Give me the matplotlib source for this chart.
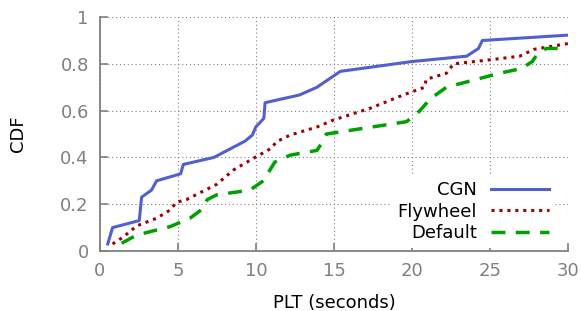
import matplotlib
matplotlib.use("Agg")
import matplotlib.pyplot as plt

# CDF of page load time
cgn_x = [0.5, 0.81, 2.52, 2.67, 3.3, 3.63, 5.17, 5.34, 7.3, 9.3, 9.77, 9.98, 10.5,
         10.58, 12.78, 13.9, 14.74, 15.4, 19.98, 23.5, 24.25, 24.5, 30.0]
cgn_y = [0.03, 0.10, 0.13, 0.23, 0.26, 0.30, 0.33, 0.37, 0.40, 0.47, 0.496, 0.53, 0.567,
         0.634, 0.667, 0.70, 0.738, 0.768, 0.81, 0.833, 0.866, 0.90, 0.923]

fly_x = [0.81, 1.5, 2.35, 3.63, 4.49, 4.9, 5.55, 7.48, 8.55, 9.83, 11.0, 11.3, 12.2,
         13.9, 14.96, 17.3, 19.55, 20.8, 20.9, 22.2, 22.65, 24.8, 26.9, 27.8, 30.0]
fly_y = [0.03, 0.06, 0.107, 0.14, 0.175, 0.208, 0.22, 0.285, 0.346, 0.396, 0.44, 0.467, 0.496,
         0.53, 0.56, 0.61, 0.67, 0.70, 0.734, 0.76, 0.80, 0.816, 0.833, 0.862, 0.887]

def_x = [1.39, 2.35, 4.49, 5.77, 6.62, 6.88, 7.48, 9.6, 10.47, 11.2, 12.2, 13.9, 14.1,
         14.5, 19.65, 20.5, 21.15, 22.2, 23.9, 25.6, 27.0, 27.7, 28.0, 28.6, 29.5]
def_y = [0.033, 0.068, 0.104, 0.14, 0.182, 0.22, 0.24, 0.26, 0.30, 0.38, 0.41, 0.43, 0.45,
         0.50, 0.553, 0.60, 0.65, 0.70, 0.73, 0.76, 0.78, 0.81, 0.84, 0.866, 0.866]

xticks = [0, 5, 10, 15, 20, 25, 30]
yticks = [0, 0.2, 0.4, 0.6, 0.8, 1]

gray = '#808080'

fig = plt.figure(figsize=(5.81, 3.11), dpi=100)
ax = fig.add_axes([0.172, 0.193, 0.806, 0.752])

ax.plot(cgn_x, cgn_y, color='#5060d0', lw=2.2, label='CGN')
ax.plot(fly_x, fly_y, color='#a00000', lw=2.2, ls=(0, (1, 1.6)), label='Flywheel')
ax.plot(def_x, def_y, color='#00a000', lw=2.5, ls=(0, (4, 3)), label='Default')

ax.set_xlim(0, 30)
ax.set_ylim(0, 1)
ax.set_xticks(xticks)
ax.set_yticks(yticks)
ax.set_yticklabels(['0', '0.2', '0.4', '0.6', '0.8', '1'])
ax.grid(True, ls=(0, (1, 2.5)), color=gray, lw=0.8)

for s in ['top', 'right']:
    ax.spines[s].set_visible(False)
for s in ['left', 'bottom']:
    ax.spines[s].set_color(gray)
    ax.spines[s].set_linewidth(1.3)

ax.tick_params(direction='in', length=6, width=1.2, color=gray,
               labelcolor=gray, labelsize=13, pad=8)

ax.set_xlabel('PLT (seconds)', fontsize=13, labelpad=10)
ax.set_ylabel('CDF', fontsize=13, labelpad=24)

leg = ax.legend(loc='lower right', bbox_to_anchor=(0.99, -0.025), frameon=True,
                markerfirst=False, fontsize=13, handlelength=3.2,
                labelspacing=0.2, handletextpad=0.8, borderpad=0.3,
                fancybox=False, framealpha=1)
leg.get_frame().set_edgecolor('none')
leg.get_frame().set_facecolor('white')
leg.set_zorder(2.4)  # keep spines and ticks on top
for t in leg.get_texts():
    t.set_ha('right')

fig.savefig('out.png', dpi=100)
